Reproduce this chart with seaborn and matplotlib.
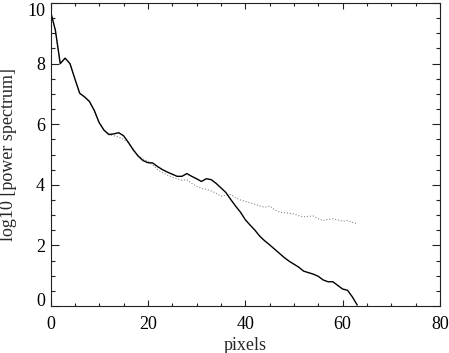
import numpy as np
import pandas as pd
import matplotlib
matplotlib.use("Agg")
import matplotlib.pyplot as plt
import seaborn as sns
from matplotlib.ticker import MultipleLocator

# valores (x = pixels, y = log10 do espectro)
pixels = list(range(64))

espectro = [
    9.73, 9.10, 8.00, 8.18, 8.00, 7.50, 7.02, 6.90, 6.75, 6.45,
    6.05, 5.80, 5.66, 5.68, 5.72, 5.62, 5.40, 5.15, 4.95, 4.80,
    4.73, 4.72, 4.60, 4.50, 4.42, 4.35, 4.28, 4.28, 4.37, 4.28,
    4.20, 4.11, 4.20, 4.17, 4.05, 3.90, 3.75, 3.52, 3.30, 3.10,
    2.85, 2.67, 2.50, 2.30, 2.15, 2.02, 1.88, 1.74, 1.60, 1.48,
    1.38, 1.28, 1.15, 1.10, 1.05, 0.98, 0.86, 0.80, 0.80, 0.68,
    0.56, 0.52, 0.30, 0.03,
]

espectro_ref = [
    9.73, 9.10, 8.00, 8.18, 8.00, 7.50, 7.02, 6.90, 6.75, 6.45,
    6.05, 5.80, 5.65, 5.62, 5.58, 5.50, 5.38, 5.18, 4.95, 4.85,
    4.78, 4.65, 4.50, 4.40, 4.32, 4.25, 4.20, 4.15, 4.17, 4.05,
    3.95, 3.89, 3.85, 3.80, 3.72, 3.62, 3.66, 3.68, 3.58, 3.50,
    3.46, 3.40, 3.36, 3.30, 3.26, 3.30, 3.18, 3.10, 3.08, 3.06,
    3.04, 2.98, 2.94, 2.96, 2.97, 2.88, 2.82, 2.86, 2.88, 2.84,
    2.80, 2.82, 2.76, 2.72,
]

df = pd.DataFrame({"pixels": pixels, "solido": espectro, "pontilhado": espectro_ref})

sns.set_style("ticks")
plt.rcParams["font.family"] = ["Liberation Serif", "DejaVu Serif"]
plt.rcParams["font.size"] = 13

fig = plt.figure(figsize=(4.49, 3.53), dpi=100)
ax = fig.add_axes([50.5 / 449, (353 - 306) / 353, 389.5 / 449, 303 / 353])

sns.lineplot(data=df, x="pixels", y="pontilhado", ax=ax, color="#888888",
             linewidth=0.8, linestyle=":")
sns.lineplot(data=df, x="pixels", y="solido", ax=ax, color="black", linewidth=1.0)

ax.set_xlim(0, 80)
ax.set_ylim(0, 10)
ax.xaxis.set_major_locator(MultipleLocator(20))
ax.xaxis.set_minor_locator(MultipleLocator(5))
ax.yaxis.set_major_locator(MultipleLocator(2))
ax.yaxis.set_minor_locator(MultipleLocator(0.5))
ax.tick_params(which="both", direction="in", top=True, right=True,
               colors="#222222", labelcolor="black", labelsize=13, width=0.8)
ax.tick_params(axis="x", which="major", length=4.5, pad=7)
ax.tick_params(axis="x", which="minor", length=2.3)
ax.tick_params(axis="y", which="major", length=6, pad=4)
ax.tick_params(axis="y", which="minor", length=3)
for s in ax.spines.values():
    s.set_visible(True)
    s.set_linewidth(0.8)
    s.set_color("#222222")

ax.set_xlabel("pixels", fontsize=13, labelpad=3)
ax.set_ylabel("log10 [power spectrum]", fontsize=13, labelpad=7)

# no IDL os rotulos extremos do eixo y ficam dentro da caixa
fig.canvas.draw()
for tick in ax.yaxis.get_major_ticks():
    if np.isclose(tick.get_loc(), 0):
        tick.label1.set_verticalalignment("baseline")
    elif np.isclose(tick.get_loc(), 10):
        tick.label1.set_verticalalignment("top")

plt.savefig("out.png", dpi=100)
plt.close()
